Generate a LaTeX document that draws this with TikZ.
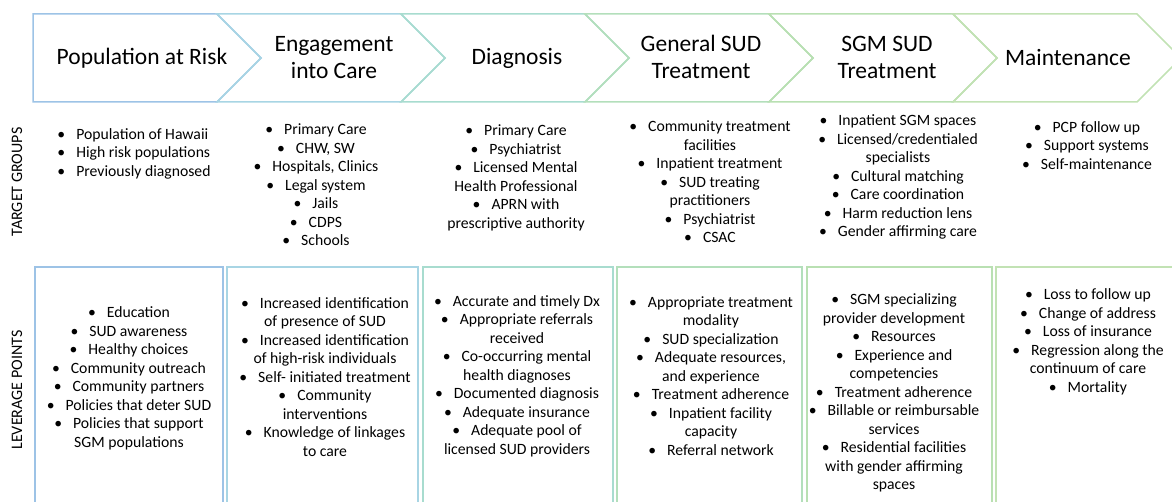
\documentclass[tikz,border=0pt]{standalone}
\usepackage{fontspec}
\setmainfont{Carlito}
\definecolor{c1}{HTML}{9DC3E6}
\definecolor{c2}{HTML}{A8D5E4}
\definecolor{c3}{HTML}{A8DCCF}
\definecolor{c4}{HTML}{B3DFBB}
\definecolor{c5}{HTML}{B9E0B2}
\definecolor{c6}{HTML}{C2E2B4}
\newcommand{\bul}{\textbullet\hspace{0.7em}}

\begin{document}
\begin{tikzpicture}[x=1pt, y=-1pt,
    stage/.style = {font=\fontsize{23.5}{27}\selectfont, align=center},
    item/.style = {font=\fontsize{15.7}{18.5}\selectfont, align=center},
    side/.style = {font=\fontsize{16}{18}\selectfont, rotate=90},
    cell/.style = {line width=1.6pt}]
    \clip (0,0) rectangle (1172,502);
    % chevrons
    \draw[c1, line width=1.5pt] (33,14) -- (217,14) -- (261,58) -- (217,102) -- (33,102) -- cycle;
    \foreach \i/\c in {1/c2, 2/c3, 3/c4, 4/c5, 5/c6} {
        \pgfmathsetmacro\l{33+184*\i}
        \draw[\c, line width=1.5pt] (\l,14) -- (\l+184,14) -- (\l+228,58) -- (\l+184,102) -- (\l,102) -- (\l+44,58) -- cycle;
    }
    % boxes
    \draw[c1, cell] (35,267) rectangle (223,520);
    \draw[c2, cell] (227,267) rectangle (418,520);
    \draw[c3, cell] (423,267) rectangle (613,520);
    \draw[c4, cell] (617,267) rectangle (802,520);
    \draw[c5, cell] (807,267) rectangle (992,520);
    \draw[c6, cell] (996,267) rectangle (1185,520);

    \node[stage] (s1) at (142,58) {Population at Risk};
    \node[stage] (s2) at (334,58) {Engagement\\into Care};
    \node[stage] (s3) at (517,58) {Diagnosis};
    \node[stage] (s4) at (701,57) {General SUD\\Treatment};
    \node[stage] (s5) at (887,57) {SGM SUD\\Treatment};
    \node[stage] (s6) at (1068,58) {Maintenance};

    \node[side] (tg) at (17,182) {TARGET GROUPS};
    \node[side] (lp) at (17,390) {LEVERAGE POINTS};

    % target groups
    \node[item, align=left] (g1) at (134,153.5) {\bul Population of Hawaii\\\bul High risk populations\\\bul Previously diagnosed};
    \node[item] (g2) at (316,185) {\bul Primary Care\\\bul CHW, SW\\\bul Hospitals, Clinics\\\bul Legal system\\\bul Jails\\\bul CDPS\\\bul Schools};
    \node[item] (g3) at (516,178) {\bul Primary Care\\\bul Psychiatrist\\\bul Licensed Mental\\Health Professional\\\bul APRN with\\prescriptive authority};
    \node[item] (g4) at (710,182) {\bul Community treatment\\facilities\\\bul Inpatient treatment\\\bul SUD treating\\practitioners\\\bul Psychiatrist\\\bul CSAC};
    \node[item] (g5) at (898,177) {\bul Inpatient SGM spaces\\\bul Licensed/credentialed\\specialists\\\bul Cultural matching\\\bul Care coordination\\\bul Harm reduction lens\\\bul Gender affirming care};
    \node[item] (g6) at (1087,145.5) {\bul PCP follow up\\\bul Support systems\\\bul Self-maintenance};

    % leverage points
    \node[item] (p1) at (129,378.5) {\bul Education\\\bul SUD awareness\\\bul Healthy choices\\\bul Community outreach\\\bul Community partners\\\bul Policies that deter SUD\\\bul Policies that support\\SGM populations};
    \node[item] (p2) at (325,377) {\bul Increased identification\\of presence of SUD\\\bul Increased identification\\of high-risk individuals\\\bul Self- initiated treatment\\\bul Community\\interventions\\\bul Knowledge of linkages\\to care};
    \node[item] (p3) at (517,376) {\bul Accurate and timely Dx\\\bul Appropriate referrals\\received\\\bul Co-occurring mental\\health diagnoses\\\bul Documented diagnosis\\\bul Adequate insurance\\\bul Adequate pool of\\licensed SUD providers};
    \node[item] (p4) at (711,376) {\bul Appropriate treatment\\modality\\\bul SUD specialization\\\bul Adequate resources,\\and experience\\\bul Treatment adherence\\\bul Inpatient facility\\capacity\\\bul Referral network};
    \node[item] (p5) at (894,393) {\bul SGM specializing\\provider development\\\bul Resources\\\bul Experience and\\competencies\\\bul Treatment adherence\\\bul Billable or reimbursable\\services\\\bul Residential facilities\\with gender affirming\\spaces};
    \node[item] (p6) at (1088,342) {\bul Loss to follow up\\\bul Change of address\\\bul Loss of insurance\\\bul Regression along the\\continuum of care\\\bul Mortality};
\end{tikzpicture}
\end{document}
